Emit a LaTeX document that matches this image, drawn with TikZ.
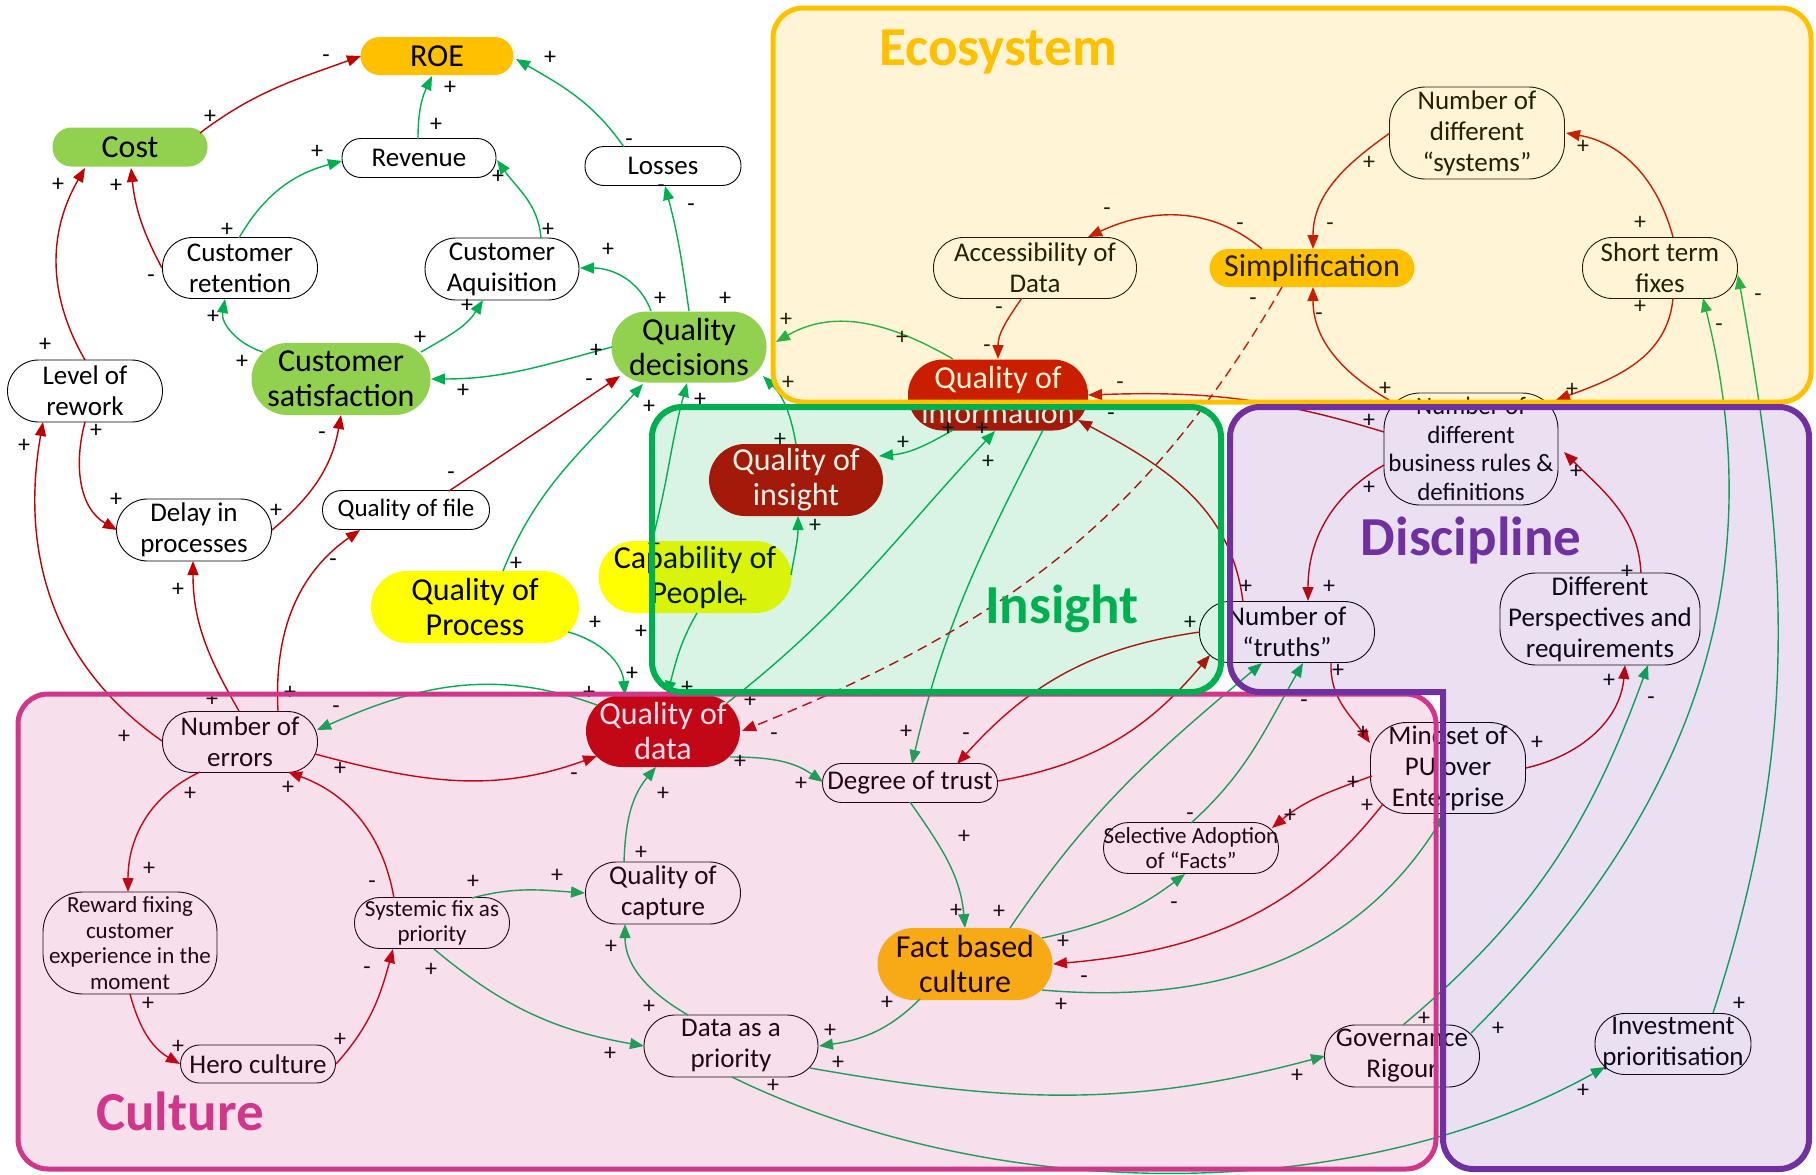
\documentclass[tikz,border=0pt]{standalone}
\usepackage{fontspec}
\setmainfont{Carlito}
\usetikzlibrary{arrows.meta}

\definecolor{cgreen}{HTML}{00B050}
\definecolor{cred}{HTML}{C00000}
\definecolor{corange}{HTML}{FFC000}
\definecolor{clime}{HTML}{92D050}
\definecolor{cyellow}{HTML}{FFFF00}
\definecolor{cpurple}{HTML}{7030A0}
\definecolor{cmagenta}{HTML}{D0378A}

\newcounter{sgn}
\newcommand\sgn[3]{\stepcounter{sgn}\node[sign, name=sg\thesgn] at (#1,#2) {#3};}

\tikzset{
  base/.style={align=center, inner sep=0pt},
  wbox/.style={base, draw=black, line width=0.9pt, font=\fontsize{27}{31}\selectfont},
  sbox/.style={base, draw=black, line width=0.9pt, font=\fontsize{23}{25.5}\selectfont},
  cbox/.style={base, font=\fontsize{32}{35}\selectfont},
  sign/.style={font=\fontsize{24}{24}\selectfont, inner sep=0pt, text height=12pt, text depth=0pt},
  ga/.style={draw=cgreen, line width=1.4pt, -{Triangle[length=14pt,width=11pt]}},
  ra/.style={draw=cred, line width=1.4pt, -{Triangle[length=14pt,width=11pt]}},
  title/.style={font=\fontsize{55}{55}\selectfont\bfseries, inner sep=0pt, anchor=base},
  group/.style={line width=5pt, rounded corners=30pt, fill opacity=0.16},
}

\begin{document}
\begin{tikzpicture}[x=1pt,y=-1pt]
\useasboundingbox (0,0) rectangle (1816,1175);

% ---------- variables ----------
\node[cbox, fill=corange, minimum width=153pt, minimum height=38pt, rounded corners=19pt] (roe) at (437,56) {ROE};
\node[cbox, fill=clime, minimum width=155pt, minimum height=39pt, rounded corners=19pt] (cost) at (130,147) {Cost};
\node[wbox, minimum width=154pt, minimum height=39pt, rounded corners=19pt] (rev) at (419,158) {Revenue};
\node[wbox, minimum width=155pt, minimum height=61pt, rounded corners=30pt] (cr) at (240,268) {Customer\\retention};
\node[wbox, minimum width=154pt, minimum height=62pt, rounded corners=31pt] (ca) at (502,269) {Customer\\Aquisition};
\node[cbox, fill=clime, minimum width=179pt, minimum height=72pt, rounded corners=36pt] (cs) at (341,379) {Customer\\satisfaction};
\node[wbox, minimum width=155pt, minimum height=62pt, rounded corners=31pt] (lor) at (85,391) {Level of\\rework};
\node[wbox, minimum width=156pt, minimum height=39pt, rounded corners=19pt] (losses) at (663,166) {Losses};
\node[cbox, fill=clime, minimum width=155pt, minimum height=71pt, rounded corners=35pt] (qd) at (689,347) {Quality\\decisions};
\node[wbox, minimum width=155pt, minimum height=62pt, rounded corners=31pt] (dip) at (194,530) {Delay in\\processes};
\node[wbox, font=\fontsize{25}{30}\selectfont, minimum width=167pt, minimum height=39pt, rounded corners=19pt] (qof) at (406,510) {Quality of file};
\node[cbox, fill=cyellow, minimum width=208pt, minimum height=72pt, rounded corners=36pt] (qop) at (475,607) {Quality of\\Process};
\node[cbox, fill=cyellow, minimum width=193pt, minimum height=72pt, rounded corners=36pt] (cop) at (695,577) {Capability of\\People};
\node[cbox, fill=cred, text=white, minimum width=174pt, minimum height=72pt, rounded corners=36pt] (qoi) at (796,480) {Quality of\\insight};
\node[cbox, fill=cred, text=white, minimum width=180pt, minimum height=71pt, rounded corners=35pt] (qinfo) at (998,395) {Quality of\\information};
\node[wbox, minimum width=203pt, minimum height=61pt, rounded corners=30pt] (aod) at (1035,268) {Accessibility of\\Data};
\node[cbox, fill=corange, minimum width=205pt, minimum height=38pt, rounded corners=19pt] (simp) at (1312,268) {Simplification};
\node[wbox, minimum width=175pt, minimum height=92pt, rounded corners=36pt] (nos) at (1477,133) {Number of\\different\\“systems”};
\node[wbox, minimum width=155pt, minimum height=61pt, rounded corners=30pt] (stf) at (1660,268) {Short term\\fixes};
\node[wbox, font=\fontsize{25}{28.5}\selectfont, minimum width=174pt, minimum height=112pt, rounded corners=36pt] (nbr) at (1471,449) {Number of\\different\\business rules \&\\definitions};
\node[wbox, minimum width=200pt, minimum height=92pt, rounded corners=36pt] (dp) at (1600,619) {Different\\Perspectives and\\requirements};
\node[wbox, minimum width=175pt, minimum height=61pt, rounded corners=30pt] (noT) at (1287,632) {Number of\\“truths”};
\node[wbox, minimum width=155pt, minimum height=91pt, rounded corners=36pt] (ms) at (1448,768) {Mindset of\\PU over\\Enterprise};
\node[wbox, minimum width=175pt, minimum height=39pt, rounded corners=19pt] (dot) at (910,783) {Degree of trust};
\node[cbox, fill=cred, text=white, minimum width=154pt, minimum height=72pt, rounded corners=36pt] (qod) at (663,731) {Quality of\\data};
\node[wbox, minimum width=155pt, minimum height=61pt, rounded corners=30pt] (noE) at (240,742) {Number of\\errors};
\node[sbox, minimum width=174pt, minimum height=102pt, rounded corners=40pt] (rf) at (130,943) {Reward fixing\\customer\\experience in the\\moment};
\node[sbox, minimum width=155pt, minimum height=51pt, rounded corners=25pt] (sf) at (432,923) {Systemic fix as\\priority};
\node[wbox, minimum width=155pt, minimum height=38pt, rounded corners=19pt] (hc) at (258,1064) {Hero culture};
\node[wbox, minimum width=155pt, minimum height=62pt, rounded corners=31pt] (qoc) at (663,893) {Quality of\\capture};
\node[wbox, minimum width=174pt, minimum height=62pt, rounded corners=31pt] (daap) at (731,1046) {Data as a\\priority};
\node[cbox, fill=corange, minimum width=175pt, minimum height=72pt, rounded corners=36pt] (fbc) at (965,964) {Fact based\\culture};
\node[sbox, minimum width=175pt, minimum height=51pt, rounded corners=25pt] (sa) at (1191,848) {Selective Adoption\\of “Facts”};
\node[wbox, minimum width=155pt, minimum height=62pt, rounded corners=31pt] (gr) at (1402,1056) {Governance\\Rigour};
\node[wbox, minimum width=156pt, minimum height=61pt, rounded corners=30pt] (ip) at (1673,1044) {Investment\\prioritisation};

% ---------- links ----------
\draw[ra] ([shift={(70,-14)}]cost.center) to[out=37,in=200] ([shift={(-76,0)}]roe.center);
\draw[ga] ([shift={(-1,-19)}]rev.center) to[out=90,in=245] ([shift={(-5,20)}]roe.center);
\draw[ga] ([shift={(-39,-19)}]losses.center) to[out=125,in=-30] ([shift={(79,3)}]roe.center);
\draw[ga] ([shift={(-1,-30)}]cr.center) to[out=60,in=195] ([shift={(-77,3)}]rev.center);
\draw[ga] ([shift={(39,-31)}]ca.center) to[out=95,in=-55] ([shift={(78,2)}]rev.center);
\draw[ra] ([shift={(-78,0)}]cr.center) to[out=118,in=-84] ([shift={(1,21)}]cost.center);
\draw[ra] ([shift={(0,-31)}]lor.center) to[out=120,in=-120] ([shift={(-45,21)}]cost.center);
\draw[ga] ([shift={(-78,-27)}]cs.center) to[out=163,in=-100] ([shift={(-15,31)}]cr.center);
\draw[ga] ([shift={(80,-27)}]cs.center) to[out=30,in=-122] ([shift={(-19,31)}]ca.center);
\draw[ga] ([shift={(-77,0)}]qd.center) to[out=195,in=0] ([shift={(90,0)}]cs.center);
\draw[ga] ([shift={(-38,-36)}]qd.center) to[out=110,in=0] ([shift={(78,-1)}]ca.center);
\draw[ga] ([shift={(0,-36)}]qd.center) to[out=98,in=-75] ([shift={(2,20)}]losses.center);
\draw[ga] ([shift={(-45,-36)}]qinfo.center) to[out=150,in=30] ([shift={(87,-5)}]qd.center);
\draw[ra] ([shift={(43,-19)}]qof.center) -- ([shift={(-69,29)}]qd.center);
\draw[ga] ([shift={(28,-36)}]qop.center) to[out=68,in=-132] ([shift={(-46,37)}]qd.center);
\draw[ga] ([shift={(-43,-36)}]cop.center) to[out=75,in=-105] ([shift={(-2,36)}]qd.center);
\draw[ga] ([shift={(0,-36)}]qoi.center) to[out=100,in=-45] ([shift={(74,29)}]qd.center);
\draw[ga] ([shift={(-45,35)}]qinfo.center) to[out=210,in=5] ([shift={(83,-24)}]qoi.center);
\draw[ga] ([shift={(64,-28)}]qod.center) to[out=38,in=-133] ([shift={(-3,36)}]qinfo.center);
\draw[ga] ([shift={(45,35)}]qinfo.center) to[out=243,in=77] ([shift={(2,-19)}]dot.center);
\draw[ra] ([shift={(-50,-19)}]simp.center) to[out=140,in=25] ([shift={(53,-31)}]aod.center);
\draw[ra] ([shift={(-13,30)}]aod.center) to[out=235,in=90] ([shift={(0,-36)}]qinfo.center);
\draw[ra] ([shift={(-87,0)}]nos.center) to[out=215,in=90] ([shift={(1,-19)}]simp.center);
\draw[ra] ([shift={(13,-31)}]stf.center) to[out=105,in=-10] ([shift={(89,0)}]nos.center);
\draw[ra] ([shift={(-82,-49)}]nbr.center) to[out=150,in=-90] ([shift={(1,19)}]simp.center);
\draw[ra] ([shift={(13,30)}]stf.center) to[out=265,in=20] ([shift={(85,-49)}]nbr.center);
\draw[ra] ([shift={(-87,-17)}]nbr.center) to[out=163,in=2] ([shift={(90,0)}]qinfo.center);
\draw[ra] ([shift={(-87,16)}]nbr.center) to[out=210,in=90] ([shift={(21,-31)}]noT.center);
\draw[ra] ([shift={(41,-46)}]dp.center) to[out=93,in=-45] ([shift={(93,3)}]nbr.center);
\draw[ra] ([shift={(78,0)}]ms.center) to[out=13,in=-95] ([shift={(25,46)}]dp.center);
\draw[ra] ([shift={(-44,-30)}]noT.center) to[out=97,in=-28] ([shift={(80,25)}]qinfo.center);
\draw[ra] ([shift={(-87,0)}]noT.center) to[out=188,in=48] ([shift={(47,-19)}]dot.center);
\draw[ra] ([shift={(88,-2)}]dot.center) to[out=10,in=-130] ([shift={(-77,23)}]noT.center);
\draw[ra] ([shift={(44,31)}]noT.center) to[out=268,in=125] ([shift={(-78,-25)}]ms.center);
\draw[ra] ([shift={(-76,8)}]ms.center) to[out=200,in=40] ([shift={(81,-20)}]sa.center);
\draw[ra] ([shift={(-65,36)}]ms.center) to[out=232,in=5] ([shift={(88,0)}]fbc.center);
\draw[ga] ([shift={(0,-25)}]sa.center) to[out=42,in=-120] ([shift={(16,31)}]noT.center);
\draw[ga] ([shift={(77,-26)}]fbc.center) to[out=12,in=-143] ([shift={(-6,26)}]sa.center);
\draw[ga] ([shift={(45,-36)}]fbc.center) to[out=56,in=-140] ([shift={(-25,31)}]noT.center);
\draw[ga] ([shift={(77,26)}]fbc.center) to[out=-5,in=-122] ([shift={(-3,46)}]ms.center);
\draw[ga] ([shift={(0,19)}]dot.center) to[out=-55,in=95] ([shift={(0,-36)}]fbc.center);
\draw[ga] ([shift={(67,26)}]qod.center) to[out=0,in=145] ([shift={(-87,-1)}]dot.center);
\draw[ra, dash pattern=on 10pt off 6pt] ([shift={(-30,19)}]simp.center) to[out=240,in=22] ([shift={(79,0)}]qod.center);
\draw[ga] ([shift={(-45,35)}]fbc.center) to[out=225,in=8] ([shift={(88,0)}]daap.center);
\draw[ga] ([shift={(-43,-31)}]daap.center) to[out=150,in=-90] ([shift={(-38,31)}]qoc.center);
\draw[ga] ([shift={(-39,-31)}]qoc.center) to[out=88,in=-130] ([shift={(-7,36)}]qod.center);
\draw[ga] ([shift={(40,-25)}]sf.center) to[out=15,in=176] ([shift={(-78,0)}]qoc.center);
\draw[ga] ([shift={(2,26)}]sf.center) to[out=-40,in=170] ([shift={(-87,0)}]daap.center);
\draw[ra] ([shift={(-38,-25)}]sf.center) to[out=100,in=-20] ([shift={(48,30)}]noE.center);
\draw[ra] ([shift={(-40,30)}]noE.center) to[out=205,in=90] ([shift={(-2,-51)}]rf.center);
\draw[ra] ([shift={(0,51)}]rf.center) to[out=-75,in=150] ([shift={(-78,0)}]hc.center);
\draw[ra] ([shift={(78,0)}]hc.center) to[out=48,in=-105] ([shift={(-39,26)}]sf.center);
\draw[ra] ([shift={(-78,-1)}]noE.center) to[out=145,in=-100] ([shift={(-42,31)}]lor.center);
\draw[ra] ([shift={(0,31)}]lor.center) to[out=-105,in=150] ([shift={(-77,0)}]dip.center);
\draw[ra] ([shift={(78,0)}]dip.center) to[out=40,in=-100] ([shift={(0,36)}]cs.center);
\draw[ra] ([shift={(-1,-31)}]noE.center) to[out=120,in=-90] ([shift={(-1,31)}]dip.center);
\draw[ra] ([shift={(38,-31)}]noE.center) to[out=93,in=-145] ([shift={(-46,20)}]qof.center);
\draw[ga] ([shift={(-66,-26)}]qod.center) to[out=160,in=24] ([shift={(77,-12)}]noE.center);
\draw[ra] ([shift={(75,12)}]noE.center) to[out=-15,in=200] ([shift={(-66,25)}]qod.center);
\draw[ga] ([shift={(93,25)}]qop.center) to[out=-15,in=95] ([shift={(-38,-36)}]qod.center);
\draw[ga] ([shift={(2,36)}]cop.center) to[out=240,in=75] ([shift={(4,-36)}]qod.center);
\draw[ga] ([shift={(96,-2)}]cop.center) to[out=80,in=-90] ([shift={(2,36)}]qoi.center);
\draw[ga] ([shift={(79,22)}]daap.center) to[out=-10,in=195] ([shift={(-77,0)}]gr.center);
\draw[ga] ([shift={(1,31)}]daap.center) to[out=-26,in=209,looseness=0.85] ([shift={(-68,23)}]ip.center);
\draw[ga] ([shift={(1,-31)}]gr.center) to[out=40,in=-110] ([shift={(48,46)}]dp.center);
\draw[ga] ([shift={(69,-23)}]gr.center) to[out=45,in=-76] ([shift={(43,30)}]stf.center);
\draw[ga] ([shift={(40,-31)}]ip.center) to[out=72,in=-80] ([shift={(78,7)}]stf.center);

% ---------- polarity signs ----------
\sgn{210}{117}{+} \sgn{326}{56}{-}
\sgn{450}{88}{+} \sgn{436}{125}{+}
\sgn{550}{58}{+} \sgn{629}{140}{-}
\sgn{227}{230}{+} \sgn{317}{152}{+}
\sgn{548}{230}{+} \sgn{498}{177}{+}
\sgn{151}{276}{-} \sgn{116}{186}{+}
\sgn{45}{345}{+} \sgn{58}{185}{+}
\sgn{213}{317}{+} \sgn{242}{362}{+}
\sgn{420}{338}{+} \sgn{467}{306}{+}
\sgn{596}{351}{+} \sgn{463}{391}{+}
\sgn{608}{250}{+} \sgn{660}{299}{+}
\sgn{691}{205}{-} \sgn{661}{186}{-} \sgn{725}{299}{+}
\sgn{786}{320}{+} \sgn{902}{338}{+}
\sgn{451}{473}{-} \sgn{589}{380}{-}
\sgn{516}{564}{+} \sgn{649}{407}{+}
\sgn{700}{400}{+} \sgn{654}{545}{+}
\sgn{815}{526}{+} \sgn{741}{601}{+}
\sgn{780}{440}{+} \sgn{788}{383}{+}
\sgn{903}{443}{+} \sgn{948}{429}{+}
\sgn{982}{429}{+} \sgn{988}{462}{+} \sgn{750}{701}{+}
\sgn{906}{732}{+}
\sgn{1240}{224}{-} \sgn{1107}{209}{-}
\sgn{999}{308}{-} \sgn{987}{346}{-}
\sgn{1369}{163}{+} \sgn{1330}{224}{-}
\sgn{1640}{223}{+} \sgn{1583}{147}{+}
\sgn{1319}{314}{-} \sgn{1385}{389}{+}
\sgn{1572}{390}{+} \sgn{1640}{307}{+}
\sgn{1120}{383}{-} \sgn{1369}{421}{+}
\sgn{1369}{488}{+} \sgn{1329}{587}{+}
\sgn{1576}{472}{+} \sgn{1627}{572}{+}
\sgn{1537}{743}{+} \sgn{1609}{681}{+}
\sgn{1246}{587}{+} \sgn{1111}{414}{-}
\sgn{1190}{623}{+} \sgn{966}{734}{-}
\sgn{1338}{671}{+} \sgn{1363}{733}{+}
\sgn{1290}{816}{+} \sgn{1353}{783}{+}
\sgn{1367}{806}{+} \sgn{1084}{977}{-}
\sgn{1190}{814}{-} \sgn{1304}{701}{-}
\sgn{1063}{942}{+} \sgn{1174}{903}{-}
\sgn{999}{912}{+}
\sgn{1061}{1005}{+}
\sgn{964}{837}{+} \sgn{956}{911}{+}
\sgn{740}{762}{+} \sgn{801}{784}{+}
\sgn{1253}{299}{-} \sgn{774}{734}{-}
\sgn{887}{1003}{+} \sgn{830}{1031}{+}
\sgn{649}{1007}{+} \sgn{611}{947}{+}
\sgn{641}{853}{+} \sgn{663}{794}{+}
\sgn{473}{882}{+} \sgn{557}{876}{+}
\sgn{431}{970}{+} \sgn{610}{1054}{+}
\sgn{372}{882}{-} \sgn{288}{788}{+}
\sgn{190}{794}{+} \sgn{149}{869}{+}
\sgn{148}{1004}{+} \sgn{178}{1047}{+}
\sgn{340}{1040}{+} \sgn{367}{968}{-}
\sgn{24}{446}{+} \sgn{124}{737}{+}
\sgn{96}{431}{+} \sgn{116}{500}{+}
\sgn{276}{511}{+} \sgn{322}{433}{-}
\sgn{178}{590}{+} \sgn{212}{700}{+}
\sgn{333}{560}{-} \sgn{290}{693}{+}
\sgn{336}{707}{-} \sgn{589}{693}{+}
\sgn{340}{769}{+} \sgn{574}{774}{-}
\sgn{595}{623}{+} \sgn{632}{674}{+}
\sgn{641}{632}{+} \sgn{687}{688}{+}
\sgn{1651}{698}{-} \sgn{1424}{1019}{+}
\sgn{1719}{325}{-} \sgn{1498}{1029}{+}
\sgn{1758}{295}{-} \sgn{1739}{1004}{+}
\sgn{838}{1063}{+} \sgn{1297}{1076}{+}
\sgn{773}{1086}{+} \sgn{1583}{1091}{+}

% ---------- groups ----------
\draw[group, draw=corange, fill=corange] (773,8) rectangle (1811,402);
\draw[group, draw=cmagenta, fill=cmagenta] (18,694) rectangle (1436,1169);
\draw[group, line width=6pt, draw=cgreen, fill=cgreen, fill opacity=0.15] (652,407) rectangle (1221,692);
\draw[group, line width=6pt, draw=cpurple, fill=cpurple, fill opacity=0.15]
  (1230,407) -- (1809,407) -- (1809,1169) -- (1443,1169) [sharp corners] -- (1443,692) [rounded corners=30pt] -- (1230,692) -- cycle;

% ---------- group titles ----------
\node[title, text=corange] (tEco) at (998,65) {Ecosystem};
\node[title, text=cgreen] (tIns) at (1062,623) {Insight};
\node[title, text=cpurple] (tDis) at (1471,555) {Discipline};
\node[title, text=cmagenta] (tCul) at (180,1130) {Culture};
\end{tikzpicture}
\end{document}
